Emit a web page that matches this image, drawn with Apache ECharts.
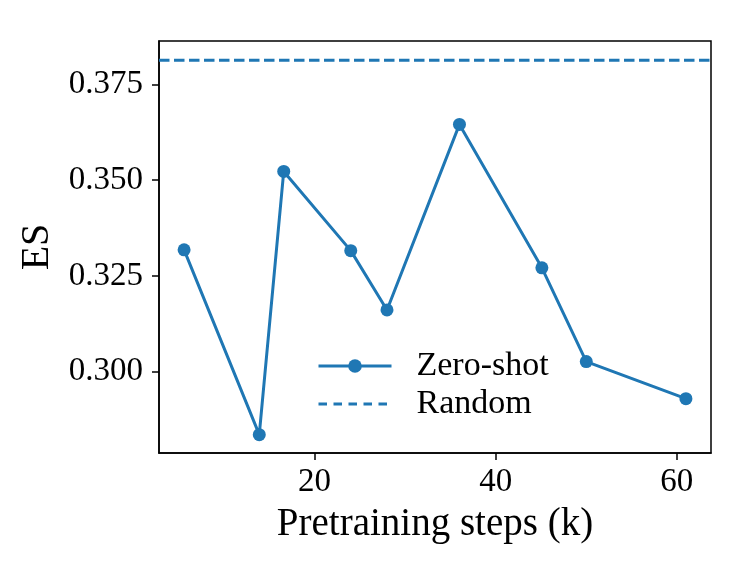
<!DOCTYPE html>
<html>
<head>
<meta charset="utf-8">
<script src="https://cdn.jsdelivr.net/npm/echarts@6/dist/echarts.min.js"></script>
<style>html,body{margin:0;padding:0;background:#fff}#c{width:753px;height:586px}</style>
</head>
<body>
<div id="c"></div>
<script>
const steps = [5.6, 13.9, 16.6, 24.0, 28.0, 36.0, 45.1, 50.0, 61.0];
const zeroShot = [0.3318, 0.2835, 0.3523, 0.3316, 0.3161, 0.3646, 0.3271, 0.3026, 0.2929];
const randomES = 0.3814;
const xTicks = [20, 40, 60];
const yTicks = [0.300, 0.325, 0.350, 0.375];
const xMin = 2.83, xMax = 63.77;
const yMin = 0.2787, yMax = 0.3864;

const FONT = 'Liberation Serif';
const BLUE = '#1f77b4';
const DASH = [10.5, 4.5];
const chart = echarts.init(document.getElementById('c'), null, {renderer: 'canvas'});
chart.setOption({
  animation: false,
  backgroundColor: '#fff',
  grid: {left: 159, right: 42, top: 41, bottom: 133, show: true, borderColor: '#000', borderWidth: 1.5, containLabel: false},
  xAxis: {
    type: 'value', min: xMin, max: xMax,
    name: 'Pretraining steps (k)', nameLocation: 'middle', nameGap: 52,
    nameTextStyle: {fontFamily: FONT, fontSize: 39, color: '#000'},
    axisLine: {show: true, lineStyle: {color: '#000', width: 1.5}},
    axisTick: {show: true, length: 7, lineStyle: {color: '#000', width: 1.5}, customValues: xTicks},
    axisLabel: {fontFamily: FONT, fontSize: 33, color: '#000', margin: 13, customValues: xTicks},
    splitLine: {show: false}
  },
  yAxis: {
    type: 'value', min: yMin, max: yMax,
    name: 'ES', nameLocation: 'middle', nameGap: 99, nameRotate: 90,
    nameTextStyle: {fontFamily: FONT, fontSize: 40, color: '#000'},
    axisLine: {show: true, lineStyle: {color: '#000', width: 1.5}},
    axisTick: {show: true, length: 7, lineStyle: {color: '#000', width: 1.5}, customValues: yTicks},
    axisLabel: {fontFamily: FONT, fontSize: 33, color: '#000', margin: 16, customValues: yTicks,
      formatter: v => v.toFixed(3)},
    splitLine: {show: false}
  },
  legend: {
    orient: 'vertical', left: 317, top: 349, padding: 0, itemGap: 4, itemWidth: 73, itemHeight: 17,
    textStyle: {fontFamily: FONT, fontSize: 34, color: '#000', padding: [0, 0, 0, 20]},
    lineStyle: {width: 3},
    data: [
      'Zero-shot',
      {name: 'Random', itemStyle: {color: 'rgba(0,0,0,0)', opacity: 0, borderWidth: 0},
       lineStyle: {color: BLUE, width: 3, type: [8.5, 6.5]}}
    ]
  },
  series: [
    {
      name: 'Zero-shot', type: 'line',
      data: steps.map((s, i) => [s, zeroShot[i]]),
      symbol: 'circle', symbolSize: 13,
      itemStyle: {color: BLUE},
      lineStyle: {color: BLUE, width: 3}
    },
    {
      name: 'Random', type: 'line',
      data: [[xMin, randomES], [xMax, randomES]],
      symbol: 'none', showSymbol: false,
      itemStyle: {color: BLUE},
      lineStyle: {color: BLUE, width: 3, type: DASH}
    }
  ]
});
</script>
</body>
</html>
